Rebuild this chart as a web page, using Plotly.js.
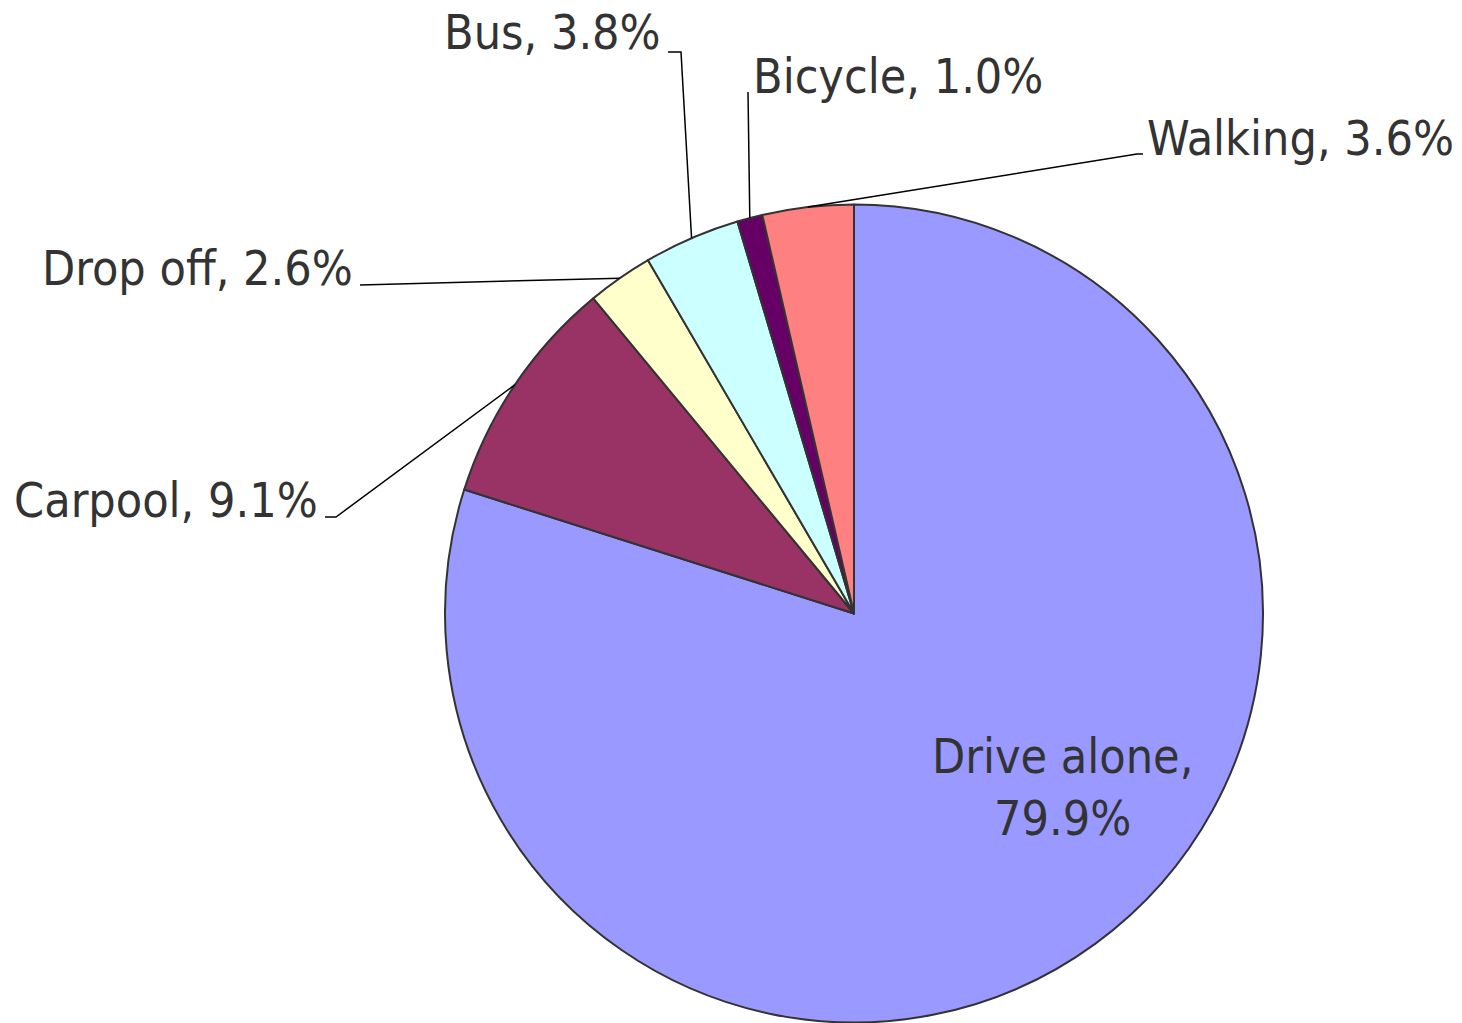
<!DOCTYPE html>
<html>
<head>
<meta charset="utf-8">
<script src="https://cdn.plot.ly/plotly-3.0.1.min.js"></script>
<style>html,body{margin:0;padding:0;background:#fff;}#chart{width:1462px;height:1023px;}</style>
</head>
<body>
<div id="chart"></div>
<script>
// ---- data ----
const labels = ['Drive alone', 'Carpool', 'Drop off', 'Bus', 'Bicycle', 'Walking'];
const values = [79.9, 9.1, 2.6, 3.8, 1.0, 3.6];
const colors = ['#9999FF', '#993366', '#FFFFCC', '#CCFFFF', '#660066', '#FF8080'];

// ---- layout helpers (pixel positions of labels / leader elbows) ----
const W = 1462, H = 1023;
const cx = 854, cy = 613.5, R = 409;
const FONT = {family: 'DejaVu Sans Condensed, DejaVu Sans, sans-serif', size: 48, color: '#333333'};

// label placement: [x, y, xanchor, elbow points after the slice point]
const labelPos = {
  'Drive alone': {x: 1062, y: 787, anchor: 'center', elbows: null},
  'Carpool':     {x: 320, y: 500, anchor: 'right', elbows: [[336, 517], [325, 517]]},
  'Drop off':    {x: 355, y: 268, anchor: 'right', elbows: [[360, 285]]},
  'Bus':         {x: 663, y: 32, anchor: 'right', elbows: [[681, 52], [668, 52]]},
  'Bicycle':     {x: 751, y: 76, anchor: 'left', elbows: [[748, 92]]},
  'Walking':     {x: 1145, y: 138, anchor: 'left', elbows: [[1137, 154], [1143, 154]]}
};

const px = x => x / W;
const py = y => 1 - y / H;

const total = values.reduce((a, b) => a + b, 0);
let cum = 0;
const annotations = [];
const shapes = [];
labels.forEach((lab, i) => {
  const frac = values[i] / total;
  const mid = cum + frac / 2;
  cum += frac;
  const th = 2 * Math.PI * mid;
  const sx = cx + R * Math.sin(th);
  const sy = cy - R * Math.cos(th);
  const lp = labelPos[lab];
  const txt = lab === 'Drive alone'
    ? lab + ',<br>' + values[i].toFixed(1) + '%'
    : lab + ', ' + values[i].toFixed(1) + '%';
  annotations.push({
    xref: 'paper', yref: 'paper', x: px(lp.x), y: py(lp.y),
    xanchor: lp.anchor, yanchor: 'middle', text: txt, showarrow: false,
    font: FONT, align: 'center'
  });
  if (lp.elbows) {
    let path = 'M ' + px(sx) + ' ' + py(sy);
    lp.elbows.forEach(p => { path += ' L ' + px(p[0]) + ' ' + py(p[1]); });
    shapes.push({type: 'path', xref: 'paper', yref: 'paper', path: path,
      line: {color: '#000000', width: 1.5}});
  }
});

const trace = {
  type: 'pie',
  labels: labels,
  values: values,
  sort: false,
  direction: 'clockwise',
  rotation: 0,
  textinfo: 'none',
  hoverinfo: 'label+percent',
  marker: {colors: colors, line: {color: '#333333', width: 2}},
  domain: {x: [px(cx - R), px(cx + R)], y: [py(cy + R), py(cy - R)]},
  showlegend: false
};

const layout = {
  width: W, height: H,
  margin: {l: 0, r: 0, t: 0, b: 0},
  paper_bgcolor: '#ffffff',
  showlegend: false,
  annotations: annotations,
  shapes: shapes
};

Plotly.newPlot('chart', [trace], layout, {displayModeBar: false, staticPlot: true});
</script>
</body>
</html>
